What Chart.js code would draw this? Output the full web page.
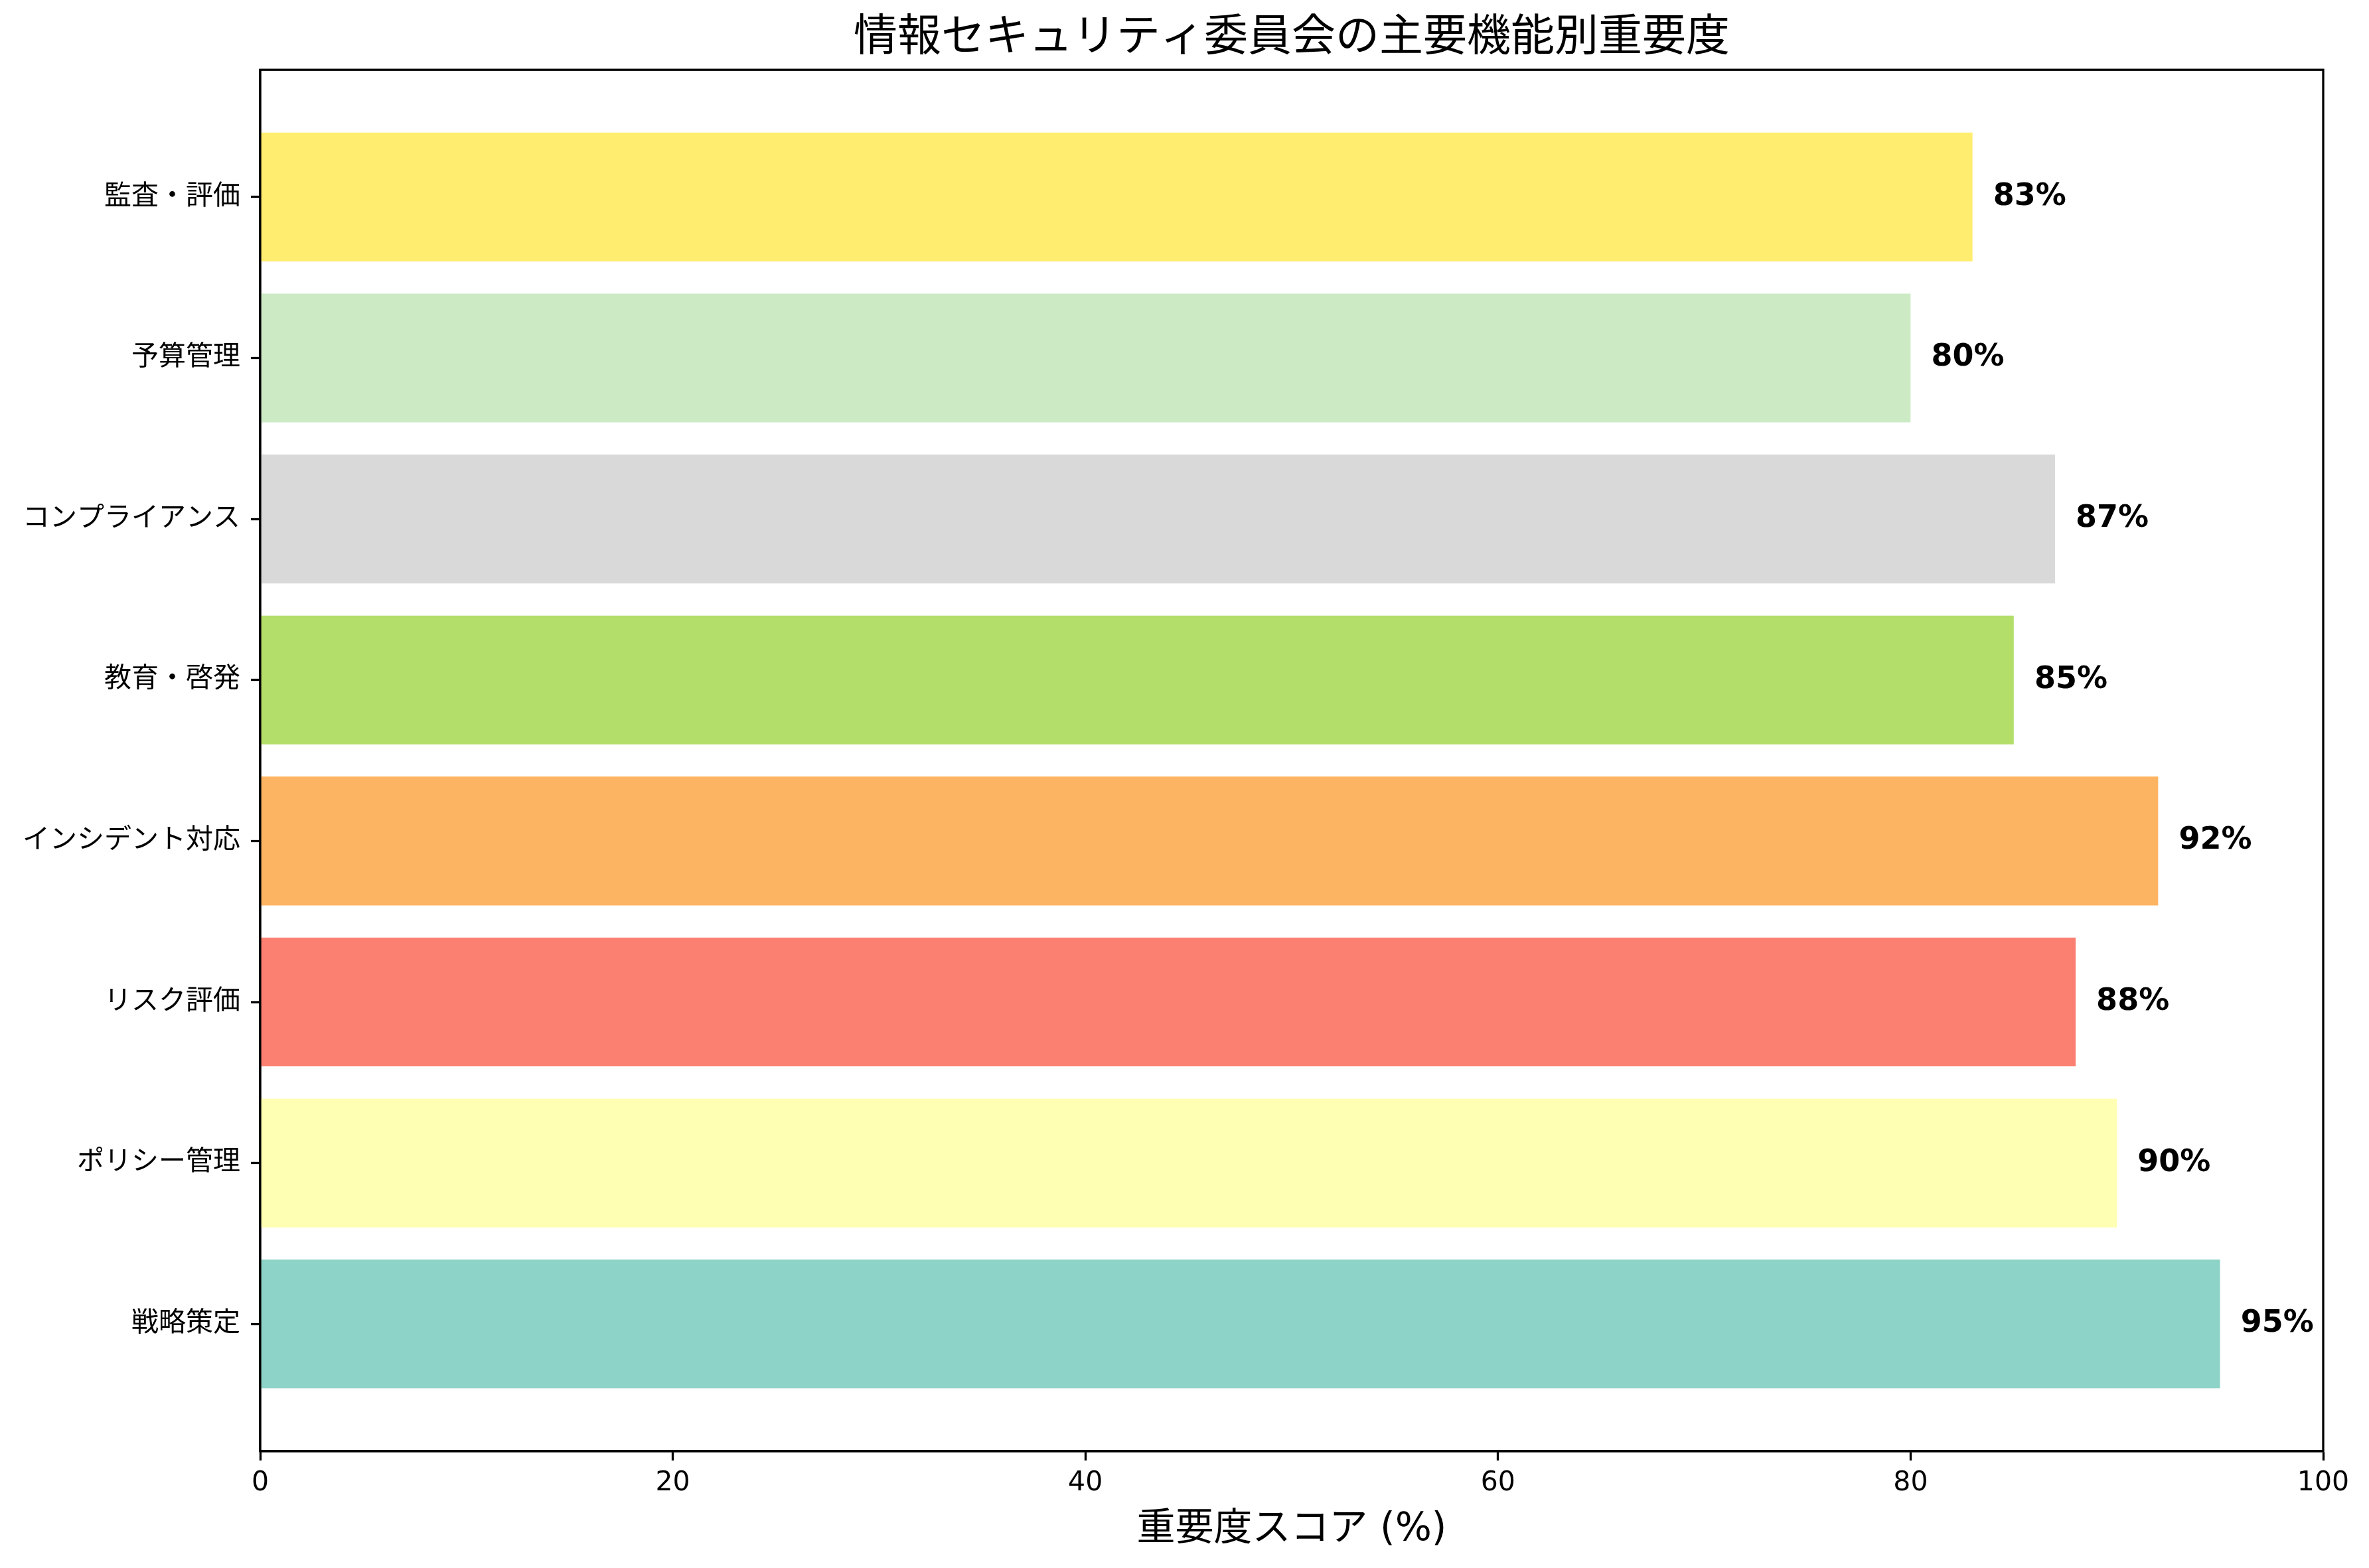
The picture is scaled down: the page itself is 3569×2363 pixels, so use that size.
<!DOCTYPE html>
<html lang="ja">
<head>
<meta charset="utf-8">
<title>情報セキュリティ委員会の主要機能別重要度</title>
<script src="https://cdn.jsdelivr.net/npm/chart.js@4.4.1/dist/chart.umd.min.js"></script>
<style>
  html, body { margin: 0; padding: 0; background: #fff; }
  #chart { display: block; }
</style>
</head>
<body>
<canvas id="chart" width="3569" height="2363" style="width:3569px;height:2363px"></canvas>
<script>
// bottom to top, same order as the picture
const categories = ['戦略策定', 'ポリシー管理', 'リスク評価', 'インシデント対応', '教育・啓発', 'コンプライアンス', '予算管理', '監査・評価'];
const scores = [95, 90, 88, 92, 85, 87, 80, 83];
const barColors = ['#8dd3c7', '#ffffb3', '#fb8072', '#fdb462', '#b3de69', '#d9d9d9', '#ccebc5', '#ffed6f'];
const xTicks = [0, 20, 40, 60, 80, 100];

const FONT = '"DejaVu Sans", "Noto Sans CJK JP", sans-serif';

// frame round the plot area (matplotlib spines)
const frame = {
  id: 'frame',
  afterDraw(chart) {
    const { ctx, chartArea: a } = chart;
    ctx.save();
    ctx.strokeStyle = '#000';
    ctx.lineWidth = 3.3;
    ctx.strokeRect(a.left, a.top, a.right - a.left, a.bottom - a.top);
    ctx.restore();
  }
};

// "95%" style labels just right of each bar
const valueLabels = {
  id: 'valueLabels',
  afterDatasetsDraw(chart) {
    const { ctx } = chart;
    const xs = chart.scales.x;
    const meta = chart.getDatasetMeta(0);
    ctx.save();
    ctx.font = 'bold 46px ' + FONT;
    ctx.fillStyle = '#000';
    ctx.textAlign = 'left';
    ctx.textBaseline = 'middle';
    meta.data.forEach((bar, i) => {
      ctx.fillText(scores[i] + '%', xs.getPixelForValue(scores[i] + 1), bar.y);
    });
    ctx.restore();
  }
};

Chart.defaults.color = '#000';
Chart.defaults.font.family = FONT;

new Chart(document.getElementById('chart'), {
  type: 'bar',
  data: {
    datasets: [{
      data: scores.map((v, i) => ({ x: v, y: i })),
      backgroundColor: barColors,
      borderWidth: 0,
      barPercentage: 0.8,
      categoryPercentage: 1.0
    }]
  },
  options: {
    indexAxis: 'y',
    responsive: false,
    animation: false,
    devicePixelRatio: 1,
    layout: { padding: { left: 0, right: 69, top: 0, bottom: 20 } },
    plugins: {
      legend: { display: false },
      tooltip: { enabled: false },
      title: {
        display: true,
        fullSize: false,
        text: '情報セキュリティ委員会の主要機能別重要度',
        color: '#000',
        font: { size: 66, weight: 'normal', family: FONT },
        padding: { top: 19, bottom: 7 }
      }
    },
    scales: {
      x: {
        type: 'linear',
        min: 0,
        max: 100,
        afterBuildTicks: (scale) => { scale.ticks = xTicks.map(v => ({ value: v })); },
        afterFit: (scale) => { scale.height = 156; },
        ticks: { font: { size: 41 }, color: '#000', padding: 10, maxRotation: 0 },
        grid: { display: true, drawOnChartArea: false, drawTicks: true, tickLength: 14, tickWidth: 3.3, tickColor: '#000', offset: false },
        border: { display: true, color: '#000', width: 3.3 },
        title: {
          display: true,
          text: '重要度スコア (%)',
          color: '#000',
          font: { size: 58, family: FONT },
          padding: { top: 0, bottom: 2 }
        }
      },
      y: {
        type: 'linear',
        offset: false,
        min: -0.79,
        max: 7.79,
        afterBuildTicks: (scale) => { scale.ticks = categories.map((c, i) => ({ value: i })); },
        afterFit: (scale) => { scale.width = 392; },
        ticks: {
          font: { size: 41 },
          color: '#000',
          padding: 16,
          callback: (value) => categories[value]
        },
        grid: { display: true, drawOnChartArea: false, drawTicks: true, tickLength: 14, tickWidth: 3.3, tickColor: '#000', offset: false },
        border: { display: true, color: '#000', width: 3.3 }
      }
    }
  },
  plugins: [frame, valueLabels]
});
</script>
</body>
</html>
